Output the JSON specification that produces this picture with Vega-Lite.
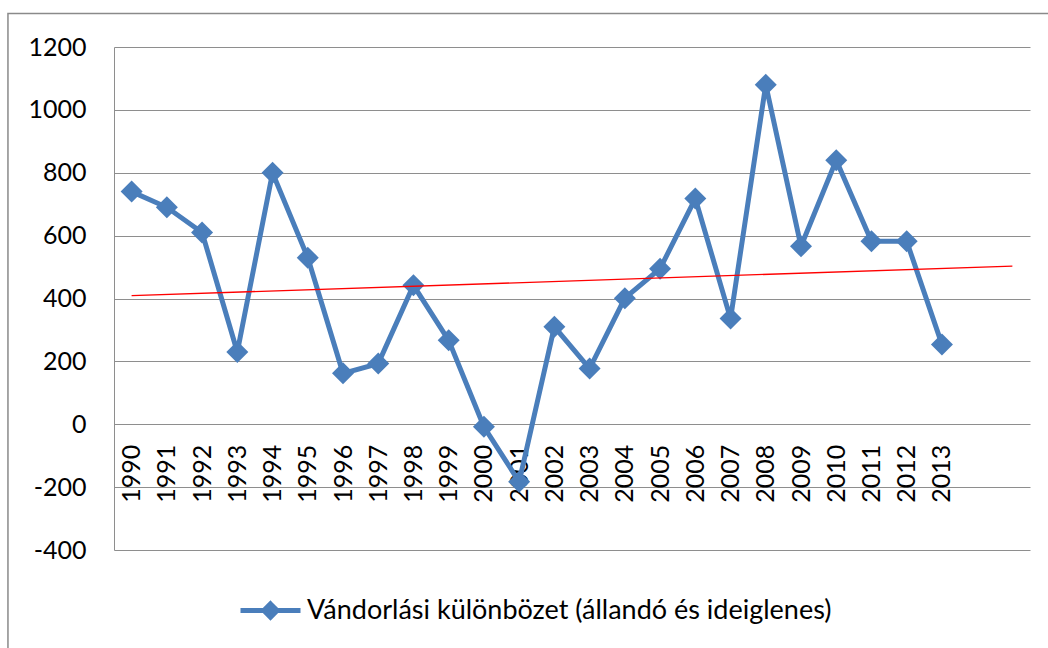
{
  "$schema": "https://vega.github.io/schema/vega-lite/v6.json",
  "width": 916,
  "height": 503,
  "autosize": {"type": "none"},
  "padding": {"left": 114, "top": 47, "right": 18, "bottom": 98},
  "background": "white",
  "config": {"view": {"stroke": null}, "font": "Lato", "axis": {"labelOverlap": false}},
  "datasets": {
    "series": [
      {"year": 1990, "value": 740},
      {"year": 1991, "value": 690},
      {"year": 1992, "value": 610},
      {"year": 1993, "value": 230},
      {"year": 1994, "value": 800},
      {"year": 1995, "value": 530},
      {"year": 1996, "value": 162},
      {"year": 1997, "value": 193},
      {"year": 1998, "value": 442},
      {"year": 1999, "value": 267},
      {"year": 2000, "value": -8},
      {"year": 2001, "value": -183},
      {"year": 2002, "value": 310},
      {"year": 2003, "value": 177},
      {"year": 2004, "value": 401},
      {"year": 2005, "value": 495},
      {"year": 2006, "value": 718},
      {"year": 2007, "value": 336},
      {"year": 2008, "value": 1080},
      {"year": 2009, "value": 566},
      {"year": 2010, "value": 840},
      {"year": 2011, "value": 582},
      {"year": 2012, "value": 582},
      {"year": 2013, "value": 254}
    ],
    "trend": [
      {"year": 1990, "value": 409},
      {"year": 2015, "value": 503}
    ]
  },
  "layer": [
    {
      "data": {"values": [{"k": "border"}]},
      "mark": {"type": "rect", "fill": null, "stroke": "#8a8a8a", "strokeWidth": 1.5, "clip": false},
      "encoding": {
        "x": {
          "datum": 1986.49,
          "type": "quantitative",
          "scale": {"domain": [1989.5, 2015.5], "nice": false, "zero": false},
          "axis": {
            "values": [1990,1991,1992,1993,1994,1995,1996,1997,1998,1999,2000,2001,2002,2003,2004,2005,2006,2007,2008,2009,2010,2011,2012,2013],
            "labelExpr": "toString(datum.value)",
            "labelAngle": -90,
            "labelAlign": "right",
            "labelBaseline": "middle",
            "ticks": false,
            "domain": false,
            "grid": false,
            "offset": -125.75,
            "labelPadding": 20,
            "labelFontSize": 25,
            "labelColor": "#000000",
            "labelFlush": false,
            "labelOverlap": false,
            "labelSeparation": 0,
            "labelBound": false,
            "title": null
          }
        },
        "x2": {"datum": 2017.5},
        "y": {
          "datum": 1306.6,
          "type": "quantitative",
          "scale": {"domain": [-400, 1200], "nice": false, "zero": false},
          "axis": {
            "values": [-400, -200, 0, 200, 400, 600, 800, 1000, 1200],
            "labelExpr": "toString(datum.value)",
            "grid": true,
            "gridColor": "#8e8e8e",
            "gridWidth": 1,
            "ticks": false,
            "domain": true,
            "domainColor": "#8e8e8e",
            "domainWidth": 1,
            "labelPadding": 28,
            "labelFontSize": 25,
            "labelColor": "#000000",
            "labelFlush": false,
            "labelOverlap": false,
            "title": null
          }
        },
        "y2": {"datum": -800}
      }
    },
    {
      "encoding": {
        "x": {
          "field": "year",
          "type": "quantitative",
          "scale": {"domain": [1989.5, 2015.5], "nice": false, "zero": false},
          "axis": {
            "values": [1990,1991,1992,1993,1994,1995,1996,1997,1998,1999,2000,2001,2002,2003,2004,2005,2006,2007,2008,2009,2010,2011,2012,2013],
            "labelExpr": "toString(datum.value)",
            "labelAngle": -90,
            "labelAlign": "right",
            "labelBaseline": "middle",
            "ticks": false,
            "domain": false,
            "grid": false,
            "offset": -125.75,
            "labelPadding": 20,
            "labelFontSize": 25,
            "labelColor": "#000000",
            "labelFlush": false,
            "labelOverlap": false,
            "labelSeparation": 0,
            "labelBound": false,
            "title": null
          }
        },
        "y": {
          "field": "value",
          "type": "quantitative",
          "scale": {"domain": [-400, 1200], "nice": false, "zero": false},
          "axis": {
            "values": [-400, -200, 0, 200, 400, 600, 800, 1000, 1200],
            "labelExpr": "toString(datum.value)",
            "grid": true,
            "gridColor": "#8e8e8e",
            "gridWidth": 1,
            "ticks": false,
            "domain": true,
            "domainColor": "#8e8e8e",
            "domainWidth": 1,
            "labelPadding": 28,
            "labelFontSize": 25,
            "labelColor": "#000000",
            "labelFlush": false,
            "labelOverlap": false,
            "title": null
          }
        }
      },
      "layer": [
        {
          "data": {"name": "series"},
          "mark": {"type": "line", "strokeWidth": 5, "point": {"shape": "diamond", "size": 484, "filled": true}},
          "encoding": {
            "color": {
              "datum": "Vándorlási különbözet (állandó és ideiglenes)",
              "scale": {"range": ["#4A7EBB"]},
              "legend": {
                "orient": "none",
                "legendX": 124,
                "legendY": 531,
                "title": null,
                "symbolType": "M-1,0H1M0,-0.22L0.22,0L0,0.22L-0.22,0Z",
                "symbolSize": 3600,
                "symbolStrokeWidth": 5,
                "symbolFillColor": "#4A7EBB",
                "symbolStrokeColor": "#4A7EBB",
                "labelFontSize": 27,
                "labelColor": "#000000",
                "labelOffset": 4,
                "labelLimit": 0
              }
            }
          }
        },
        {
          "data": {"name": "trend"},
          "mark": {"type": "line", "color": "#FF0000", "strokeWidth": 1.3}
        }
      ]
    }
  ]
}
